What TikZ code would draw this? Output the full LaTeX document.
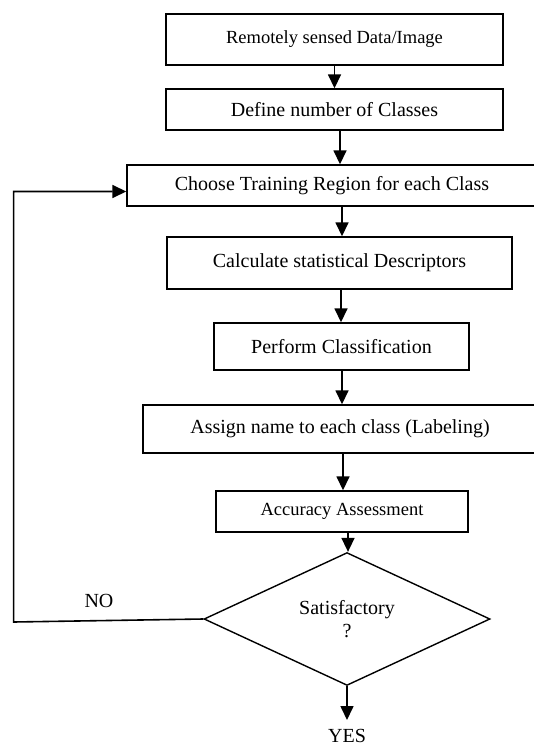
\documentclass[tikz,border=0pt]{standalone}
\usepackage{fontspec}
\setmainfont{Liberation Serif}
\usetikzlibrary{arrows.meta,shapes.geometric}
\begin{document}
\begin{tikzpicture}[x=1pt,y=-1pt,
  box/.style={draw,line width=1.4pt,inner sep=0pt,font=\fontsize{20}{23}\selectfont},
  smallbox/.style={box,font=\fontsize{18.5}{22}\selectfont},
  decision/.style={diamond,draw,line width=1.4pt,inner sep=0pt,align=center,font=\fontsize{20}{23}\selectfont},
  lbl/.style={inner sep=0pt,font=\fontsize{20}{23}\selectfont},
  arr/.style={line width=1.6pt,-{Triangle[length=14pt,width=13pt]}}]
\useasboundingbox (0,0) rectangle (533,746);

\node[smallbox,minimum width=337pt,minimum height=51pt] (b1) at (334.5,39.5) {Remotely sensed Data/Image};
\node[box,minimum width=337pt,minimum height=41pt] (b2) at (334.5,109.5) {Define number of Classes};
\node[box,minimum width=410pt,minimum height=41pt] (b3) at (332,185.5) {Choose Training Region for each Class};
\node[box,minimum width=345pt,minimum height=52pt] (b4) at (339.5,263) {Calculate statistical Descriptors};
\node[box,minimum width=255pt,minimum height=47pt] (b5) at (341.5,346.5) {Perform Classification};
\node[box,minimum width=394pt,minimum height=48pt] (b6) at (340,429) {Assign name to each class (Labeling)};
\node[smallbox,minimum width=252pt,minimum height=41pt] (b7) at (342,511.5) {Accuracy Assessment};
\node[decision,minimum width=286pt,minimum height=113pt] (d) at (347,619) {Satisfactory\\?};

\node[lbl] (no) at (99,601) {NO};
\node[lbl] (yes) at (347,736) {YES};

\coordinate (fb1) at (13.6,622);
\coordinate (fb2) at (13.6,191.5);
\coordinate (yesend) at (347,720);

\draw[arr] (b1.south) -- (b2.north);
\draw[arr] ([xshift=5.5pt]b2.south) -- ([xshift=8pt]b3.north);
\draw[arr] ([xshift=10pt]b3.south) -- ([xshift=2.5pt]b4.north);
\draw[arr] ([xshift=1.5pt]b4.south) -- ([xshift=-0.5pt]b5.north);
\draw[arr] ([xshift=0.5pt]b5.south) -- ([xshift=2pt]b6.north);
\draw[arr] ([xshift=3pt]b6.south) -- ([xshift=1pt]b7.north);
\draw[arr] ([xshift=6pt]b7.south) -- ([xshift=1pt]d.north);
\draw[arr] (d.south) -- (yesend);
\draw[arr] (d.west) -- (fb1) -- (fb2) -- (fb2 -| b3.west);
\end{tikzpicture}
\end{document}
